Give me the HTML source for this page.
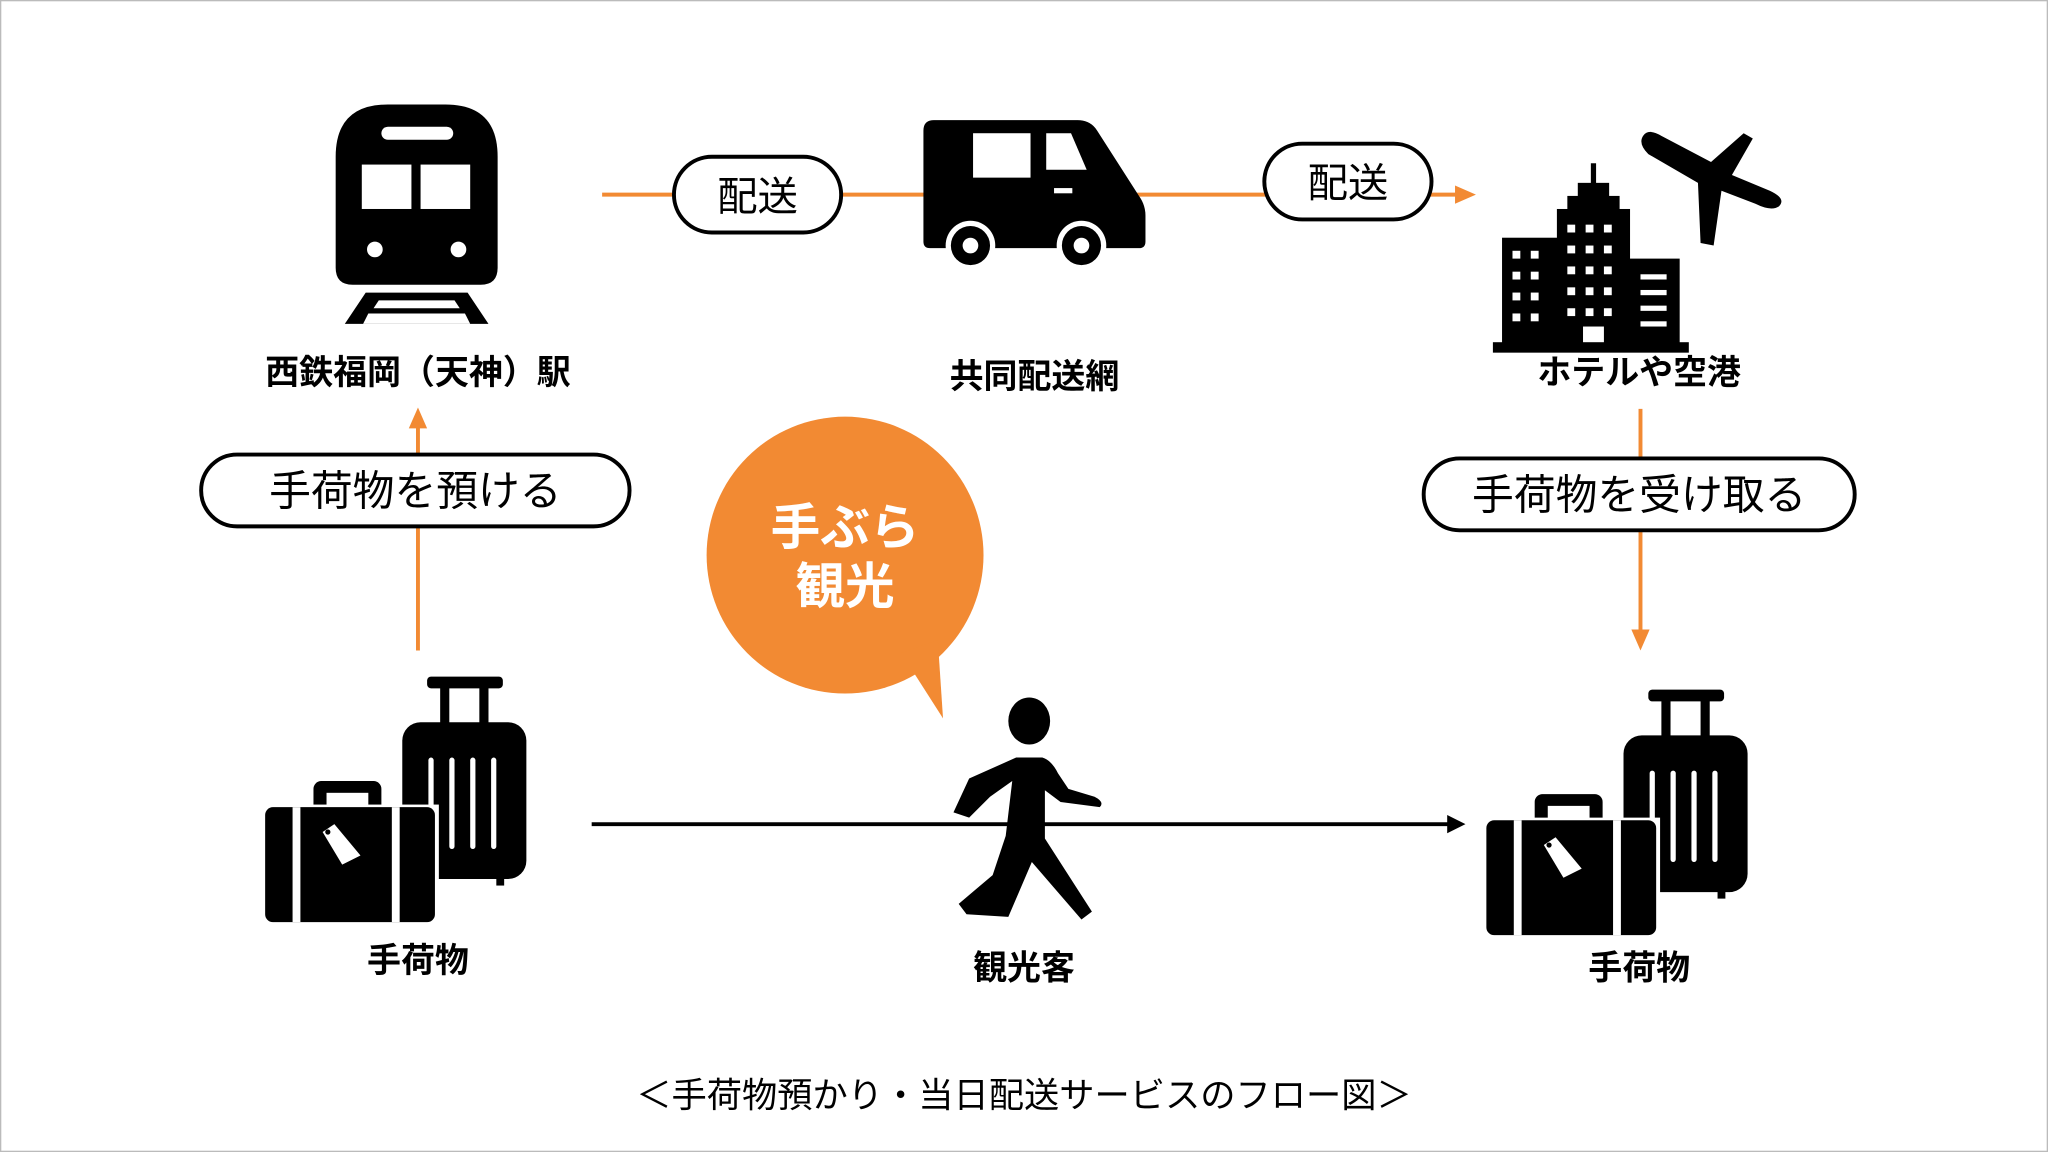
<!DOCTYPE html>
<html><head><meta charset="utf-8"><style>
html,body{margin:0;padding:0;background:#fff}
svg{display:block}
text{font-family:"Liberation Sans","Noto Sans CJK JP",sans-serif}
</style></head><body>
<svg width="2048" height="1152" viewBox="0 0 1568 882" xmlns="http://www.w3.org/2000/svg">
<rect x="0.5" y="0.5" width="1567" height="881" fill="#fff" stroke="#bbb" stroke-width="1"/>
<defs>
<g id="lug">
  <rect x="327" y="518" width="58" height="9" rx="3" fill="#000"/>
  <rect x="337" y="525" width="7" height="30" fill="#000"/>
  <rect x="367" y="525" width="7" height="30" fill="#000"/>
  <rect x="308" y="553" width="95" height="120" rx="14" fill="#000"/>
  <rect x="380" y="668" width="6" height="10" fill="#000"/>
  <g fill="#fff"><rect x="328" y="580" width="4" height="70" rx="2"/><rect x="344" y="580" width="4" height="70" rx="2"/><rect x="360" y="580" width="4" height="70" rx="2"/><rect x="376" y="580" width="4" height="70" rx="2"/></g>
  <rect x="240" y="598" width="52" height="30" rx="6" fill="#000"/>
  <rect x="250" y="607" width="32" height="14" fill="#fff"/>
  <rect x="201" y="616" width="135" height="94" fill="#fff"/>
  <rect x="203" y="618" width="130" height="88" rx="6" fill="#000"/>
  <rect x="224" y="618" width="6" height="88" fill="#fff"/>
  <rect x="300" y="618" width="6" height="88" fill="#fff"/>
  <polygon points="247,637 256,631 276,655 262,662" fill="#fff"/>
  <circle cx="251" cy="637" r="2" fill="#000"/>
</g>
</defs>
<!-- train -->
<path d="M257,120 Q257,80 297,80 L341,80 Q381,80 381,120 L381,205 Q381,218 368,218 L270,218 Q257,218 257,205 Z" fill="#000"/>
<rect x="292" y="97" width="55" height="10" rx="5" fill="#fff"/>
<rect x="277" y="126" width="38" height="34" fill="#fff"/>
<rect x="322" y="126" width="38" height="34" fill="#fff"/>
<circle cx="287" cy="191" r="6" fill="#fff"/><circle cx="351" cy="191" r="6" fill="#fff"/>
<polygon points="280,224 358,224 374,248 264,248" fill="#000"/>
<polygon points="290,230 348,230 352,236 286,236" fill="#fff"/>
<polygon points="282,240 356,240 360,248 278,248" fill="#fff"/>
<text x="320" y="294" font-size="26" font-weight="bold" text-anchor="middle">西鉄福岡（天神）駅</text>
<!-- orange top line -->
<line x1="461" y1="149" x2="1116" y2="149" stroke="#f28a33" stroke-width="3"/>
<polygon points="1114,142 1130,149 1114,156" fill="#f28a33"/>
<!-- truck -->
<path d="M707,100 Q707,92 715,92 L825,92 Q835,92 840,100 L872,150 Q877,157 877,165 L877,185 Q877,190 872,190 L712,190 Q707,190 707,185 Z" fill="#000"/>
<rect x="745" y="102" width="44" height="34" fill="#fff"/>
<polygon points="801,102 820,102 832,130 801,130" fill="#fff"/>
<rect x="807" y="144" width="14" height="4" fill="#fff"/>
<circle cx="743" cy="188" r="19" fill="#fff"/><circle cx="743" cy="188" r="15" fill="#000"/><circle cx="743" cy="188" r="6" fill="#fff"/>
<circle cx="828" cy="188" r="19" fill="#fff"/><circle cx="828" cy="188" r="15" fill="#000"/><circle cx="828" cy="188" r="6" fill="#fff"/>
<!-- pills 配送 -->
<rect x="516" y="120" width="128" height="58" rx="29" fill="#fff" stroke="#000" stroke-width="3"/>
<text x="580" y="161" font-size="31" text-anchor="middle">配送</text>
<rect x="968" y="110" width="128" height="58" rx="29" fill="#fff" stroke="#000" stroke-width="3"/>
<text x="1032" y="151" font-size="31" text-anchor="middle">配送</text>
<text x="792" y="297" font-size="26" font-weight="bold" text-anchor="middle">共同配送網</text>
<!-- buildings -->
<rect x="1218" y="125" width="4" height="20" fill="#000"/>
<rect x="1208" y="140" width="24" height="14" fill="#000"/>
<rect x="1200" y="150" width="40" height="14" fill="#000"/>
<rect x="1192" y="160" width="56" height="105" fill="#000"/>
<rect x="1150" y="182" width="44" height="83" fill="#000"/>
<rect x="1246" y="198" width="40" height="67" fill="#000"/>
<rect x="1143" y="262" width="150" height="8" fill="#000"/>
<g fill="#fff">
<rect x="1158" y="192" width="6" height="6"/><rect x="1172" y="192" width="6" height="6"/>
<rect x="1158" y="208" width="6" height="6"/><rect x="1172" y="208" width="6" height="6"/>
<rect x="1158" y="224" width="6" height="6"/><rect x="1172" y="224" width="6" height="6"/>
<rect x="1158" y="240" width="6" height="6"/><rect x="1172" y="240" width="6" height="6"/>
<rect x="1200" y="172" width="6" height="6"/><rect x="1214" y="172" width="6" height="6"/><rect x="1228" y="172" width="6" height="6"/>
<rect x="1200" y="188" width="6" height="6"/><rect x="1214" y="188" width="6" height="6"/><rect x="1228" y="188" width="6" height="6"/>
<rect x="1200" y="204" width="6" height="6"/><rect x="1214" y="204" width="6" height="6"/><rect x="1228" y="204" width="6" height="6"/>
<rect x="1200" y="220" width="6" height="6"/><rect x="1214" y="220" width="6" height="6"/><rect x="1228" y="220" width="6" height="6"/>
<rect x="1200" y="236" width="6" height="6"/><rect x="1214" y="236" width="6" height="6"/><rect x="1228" y="236" width="6" height="6"/>
<rect x="1212" y="250" width="16" height="12"/>
<rect x="1256" y="210" width="20" height="4"/><rect x="1256" y="222" width="20" height="4"/><rect x="1256" y="234" width="20" height="4"/><rect x="1256" y="246" width="20" height="4"/>
</g>
<!-- plane -->
<path d="M1258,104 Q1262,98 1272,104 L1310,124 L1335,102 L1342,106 L1326,134 L1355,146 Q1368,152 1362,158 Q1356,162 1344,156 L1318,146 L1312,188 L1302,186 L1300,140 L1262,118 Q1254,110 1258,104 Z" fill="#000"/>
<text x="1255" y="294" font-size="26" font-weight="bold" text-anchor="middle">ホテルや空港</text>
<!-- left vertical -->
<line x1="320" y1="498" x2="320" y2="326" stroke="#f28a33" stroke-width="3"/>
<polygon points="313,328 320,312 327,328" fill="#f28a33"/>
<rect x="154" y="348" width="328" height="55" rx="27.5" fill="#fff" stroke="#000" stroke-width="3"/>
<text x="318" y="387" font-size="32" text-anchor="middle">手荷物を預ける</text>
<!-- right vertical -->
<line x1="1256" y1="313" x2="1256" y2="484" stroke="#f28a33" stroke-width="3"/>
<polygon points="1249,482 1256,498 1263,482" fill="#f28a33"/>
<rect x="1090" y="351" width="330" height="55" rx="27.5" fill="#fff" stroke="#000" stroke-width="3"/>
<text x="1255" y="390" font-size="32" text-anchor="middle">手荷物を受け取る</text>
<!-- bubble -->
<circle cx="647" cy="425" r="106" fill="#f28a33"/>
<polygon points="690,500 722,550 718,490" fill="#f28a33"/>
<text x="647" y="417" font-size="38" font-weight="bold" fill="#fff" text-anchor="middle">手ぶら</text>
<text x="647" y="462" font-size="38" font-weight="bold" fill="#fff" text-anchor="middle">観光</text>
<!-- black arrow -->
<line x1="453" y1="631" x2="1110" y2="631" stroke="#000" stroke-width="3"/>
<polygon points="1108,624 1122,631 1108,638" fill="#000"/>
<!-- walker -->
<ellipse cx="788" cy="552" rx="16" ry="18" fill="#000"/>
<path d="M778,580 L798,580 Q805,582 810,592 L818,604 L838,610 Q846,614 842,618 L812,614 L800,605 L800,642 L836,698 L828,704 L790,660 L772,702 L740,700 L734,692 L760,670 L770,640 L775,598 L758,610 L742,626 L730,622 L742,596 Z" fill="#000"/>
<!-- luggage -->
<use href="#lug"/>
<use href="#lug" transform="translate(935,10)"/>
<text x="320" y="744" font-size="26" font-weight="bold" text-anchor="middle">手荷物</text>
<text x="784" y="750" font-size="26" font-weight="bold" text-anchor="middle">観光客</text>
<text x="1255" y="750" font-size="26" font-weight="bold" text-anchor="middle">手荷物</text>
<text x="784" y="848" font-size="27" text-anchor="middle">＜手荷物預かり・当日配送サービスのフロー図＞</text>
</svg>
</body></html>
